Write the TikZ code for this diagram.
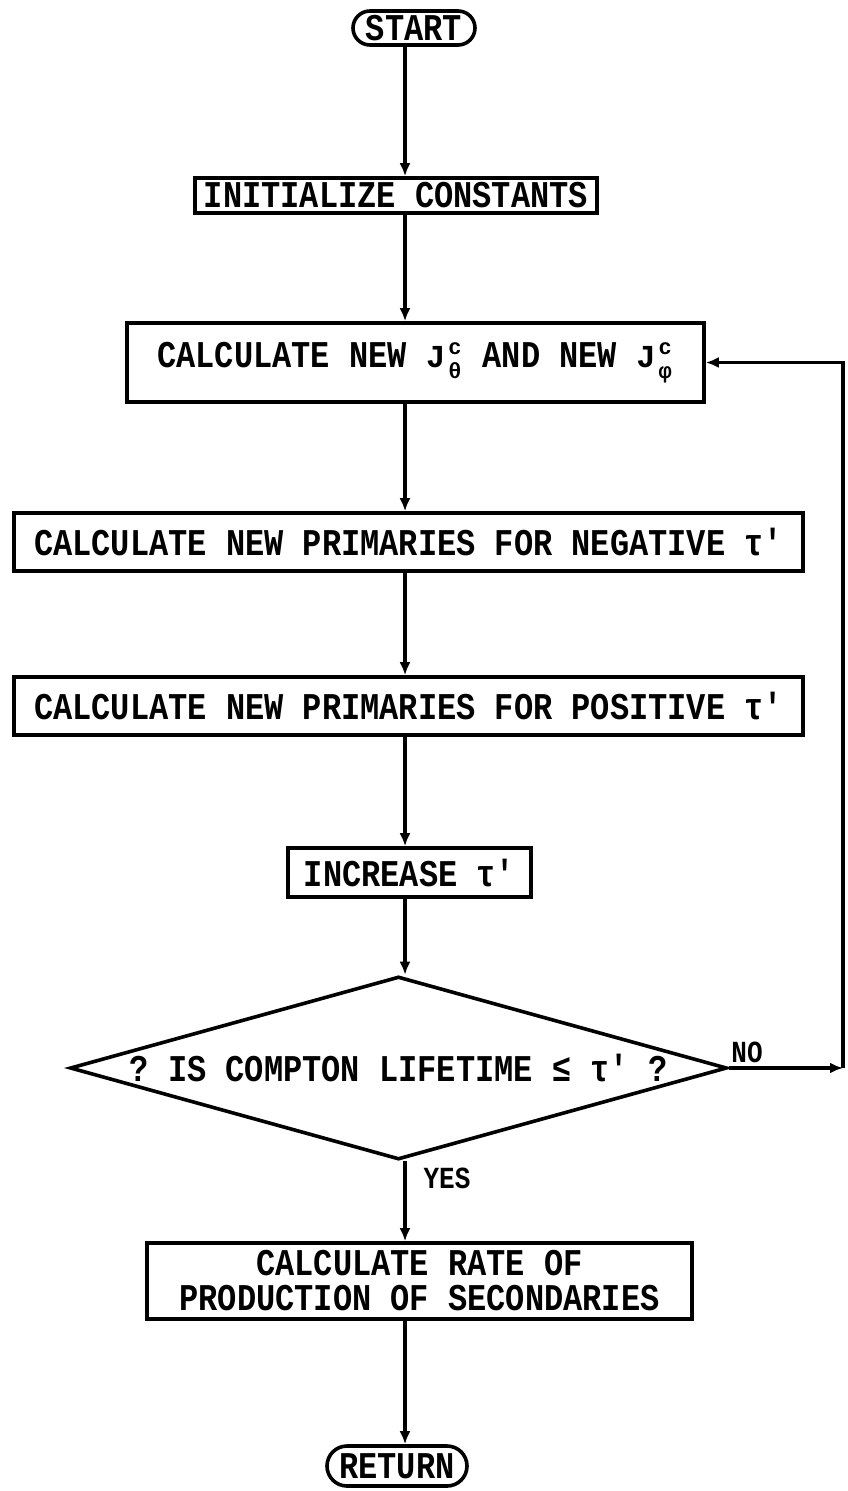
\documentclass[tikz,border=0pt]{standalone}
\usepackage{fontspec}
\usepackage{graphicx}
\setmonofont{Liberation Mono}
\usetikzlibrary{arrows.meta,shapes.geometric}
\newcommand\T[1]{\scalebox{1}[1.18]{#1}}
\newcommand\pr{'}
\newcommand\jsub[2]{J\hspace{3pt}\makebox[0pt][l]{\raisebox{13pt}{\fontsize{22}{22}\selectfont #1}}\raisebox{-11pt}{\fontsize{22}{22}\selectfont #2}\hspace{2pt}}
\begin{document}
\begin{tikzpicture}[x=1pt,y=-1pt,
  every node/.style={font=\ttfamily\fontsize{32}{33}\selectfont\bfseries},
  procbox/.style={draw,line width=3.6pt,inner sep=2pt,align=center},
  pill/.style={draw,line width=3.6pt,rounded corners=17pt,inner sep=2pt},
  decbox/.style={draw,diamond,aspect=3.6,line width=3.6pt,inner sep=0pt,minimum width=657pt,minimum height=183pt},
  conn/.style={line width=3.6pt,-{Latex[length=13pt,width=11pt]}},
  lbl/.style={font=\ttfamily\fontsize{26}{26}\selectfont\bfseries}]
\useasboundingbox (0,0) rectangle (847,1491);
\coordinate (col) at (405,0);
\node[pill,minimum width=122pt,minimum height=34pt] (start) at (414,28) {\T{START}};
\node[procbox,minimum width=402pt,minimum height=35pt] (init) at (396,195.5) {\T{INITIALIZE CONSTANTS}};
\node[procbox,minimum width=577pt,minimum height=79pt] (jbox) at (415.5,362.5) {\T{CALCULATE NEW }\jsub{c}{θ}\T{ AND NEW }\jsub{c}{φ}};
\node[procbox,minimum width=789pt,minimum height=58pt] (neg) at (408.5,542) {\T{CALCULATE NEW PRIMARIES FOR NEGATIVE τ\pr}};
\node[procbox,minimum width=789pt,minimum height=58pt] (pos) at (408.5,706) {\T{CALCULATE NEW PRIMARIES FOR POSITIVE τ\pr}};
\node[procbox,minimum width=243pt,minimum height=49pt] (inc) at (409.5,872.5) {\T{INCREASE τ\pr}};
\node[decbox] (dec) at (398.5,1068) {\T{? IS COMPTON LIFETIME ≤ τ\pr{} ?}};
\node[procbox,minimum width=545pt,minimum height=76pt] (sec) at (419.5,1281) {\T{CALCULATE RATE OF}\\[2pt]\T{PRODUCTION OF SECONDARIES}};
\node[pill,minimum width=140pt,minimum height=40pt,rounded corners=20pt] (ret) at (397,1466) {\T{RETURN}};
\node[lbl] (yes) at (447,1178) {\T{YES}};
\node[lbl] (no) at (747,1052) {\T{NO}};
\coordinate (nocorner) at (843,1068);
\draw[conn] (start.south -| col) -- (init.north -| col);
\draw[conn] (init.south -| col) -- (jbox.north -| col);
\draw[conn] (jbox.south -| col) -- (neg.north -| col);
\draw[conn] (neg.south -| col) -- (pos.north -| col);
\draw[conn] (pos.south -| col) -- (inc.north -| col);
\draw[conn] (inc.south -| col) -- (dec.north -| col);
\draw[conn] (dec.south -| col) -- (sec.north -| col);
\draw[conn] (sec.south -| col) -- (ret.north -| col);
\draw[conn] (dec.east) -- (nocorner);
\draw[conn] (nocorner) |- (jbox.east);
\end{tikzpicture}
\end{document}
